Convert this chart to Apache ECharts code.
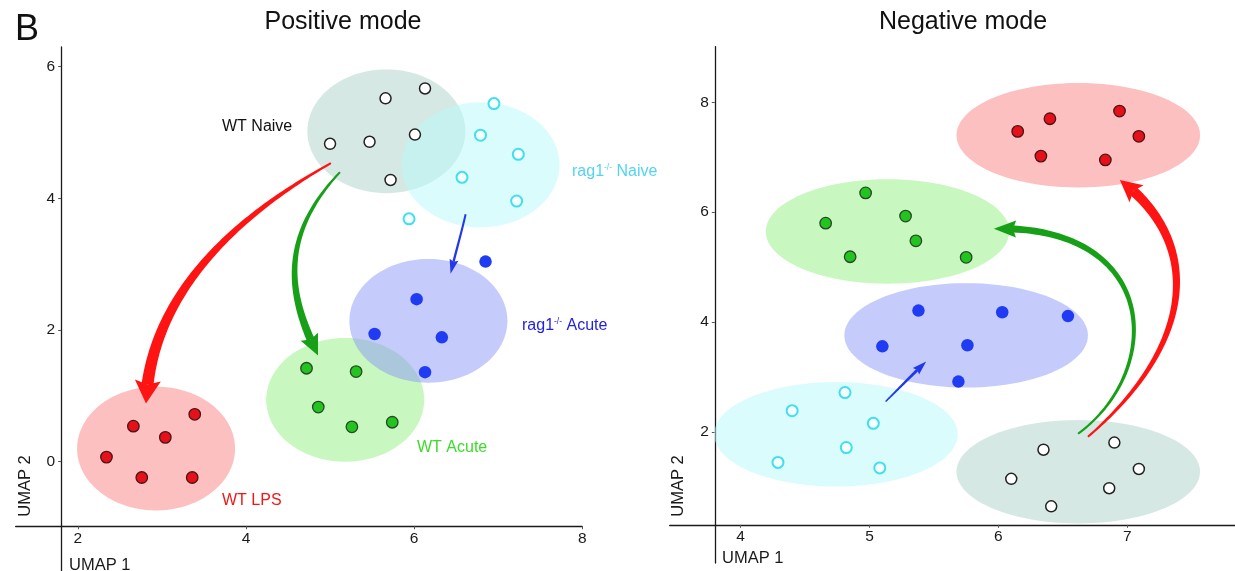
<!DOCTYPE html>
<html><head><meta charset="utf-8">
<script src="https://cdn.jsdelivr.net/npm/echarts@6/dist/echarts.min.js"></script>
<style>html,body{margin:0;padding:0;background:#fff}#c{width:1235px;height:571px}</style>
</head><body><div id="c"></div>
<script>
// ---------- Positive mode (left) : [UMAP1, UMAP2] ----------
const posWTNaive  = [[6.13,5.67],[5.66,5.52],[5.00,4.83],[5.47,4.86],[6.01,4.97],[5.72,4.28]];
const posRagNaive = [[6.95,5.44],[6.79,4.96],[7.24,4.67],[6.57,4.32],[7.22,3.96],[5.94,3.69]];
const posRagAcute = [[6.85,3.04],[6.03,2.47],[5.53,1.94],[6.33,1.89],[6.13,1.36]];
const posWTAcute  = [[4.72,1.42],[5.31,1.37],[4.86,0.83],[5.26,0.53],[5.74,0.60]];
const posWTLPS    = [[3.39,0.72],[2.66,0.54],[3.04,0.37],[2.34,0.07],[2.76,-0.24],[3.36,-0.24]];
// cluster ellipses [cx, cy, rx, ry] : WT Naive, rag1 Naive, WT Acute, rag1 Acute, WT LPS
const posClusters = [[5.67,5.02,0.94,0.94],[6.79,4.51,0.94,0.95],[5.18,0.94,0.94,0.94],[6.17,2.14,0.94,0.94],[2.93,0.20,0.94,0.94]];
// arrows (cubic: start, ctrl1, ctrl2, tip) : red, green, blue
const posArrows = [
  [5.01,4.535, 3.584,3.516, 2.849,2.272, 2.810,0.883],
  [5.118,4.399, 4.333,3.338, 4.551,2.409, 4.857,1.613],
  [6.613,3.76, 6.56,3.46, 6.49,3.16, 6.434,2.857]
];
const posXTicks = [2,4,6,8];
const posYTicks = [0,2,4,6];

// ---------- Negative mode (right) ----------
const negWTLPS    = [[6.15,7.47],[6.40,7.70],[6.94,7.84],[7.09,7.38],[6.33,7.02],[6.83,6.95]];
const negWTAcute  = [[4.97,6.35],[4.66,5.80],[5.28,5.93],[5.36,5.48],[4.85,5.19],[5.75,5.18]];
const negRagAcute = [[5.38,4.21],[6.03,4.18],[6.54,4.11],[5.10,3.56],[5.76,3.58],[5.69,2.92]];
const negRagNaive = [[4.81,2.72],[4.40,2.39],[5.03,2.16],[4.82,1.72],[4.29,1.45],[5.08,1.35]];
const negWTNaive  = [[6.35,1.68],[6.90,1.81],[6.10,1.15],[7.09,1.33],[6.86,0.98],[6.41,0.65]];
// WT Naive, rag1 Naive, WT Acute, rag1 Acute, WT LPS
const negClusters = [[6.62,1.28,0.945,0.94],[4.74,1.96,0.945,0.95],[5.14,5.65,0.945,0.95],[5.75,3.76,0.945,0.95],[6.62,7.40,0.945,0.95]];
const negArrows = [
  [6.695,1.915, 7.564,3.68, 7.564,5.50, 6.943,6.587],
  [6.618,1.97, 7.293,3.13, 7.254,5.77, 5.965,5.70],
  [5.125,2.556, 5.23,2.80, 5.33,3.04, 5.44,3.284]
];
const negXTicks = [4,5,6,7];
const negYTicks = [2,4,6,8];

// ---------- styles ----------
const FONT = 'Liberation Sans, Arial, Helvetica, sans-serif';
const clusterFill = ['rgba(173,209,201,0.5)','rgba(181,249,249,0.5)','rgba(147,239,129,0.5)','rgba(139,151,245,0.5)','rgba(249,129,129,0.5)'];
const arrowStyle = [
  {color:'#ff1414', w0:2, w1:12, head:18, headW:26, notch:4},
  {color:'#17a017', w0:2, w1:8, head:16, headW:19, notch:3},
  {color:'#2238ea', w0:2, w1:2.4, head:12, headW:9, notch:2}
];
const arrowStyleR = [
  {color:'#ff1414', w0:2, w1:10, head:17, headW:22, notch:4},
  {color:'#17a017', w0:2, w1:7, head:15, headW:17, notch:3},
  {color:'#2238ea', w0:1.5, w1:3, head:12, headW:9, notch:2}
];
const groupStyle = {
  WTNaive:  {color:'#ffffff', borderColor:'#222222', borderWidth:1.5, size:11},
  RagNaive: {color:'#f5ffff', borderColor:'#40dff0', borderWidth:2, size:11},
  RagAcute: {color:'#1f3cf2', borderColor:'#1f3cf2', borderWidth:0, size:12.5},
  WTAcute:  {color:'#22c41e', borderColor:'#2b472b', borderWidth:1.3, size:11.5},
  WTLPS:    {color:'#e5101a', borderColor:'#4a1515', borderWidth:1.3, size:11.5}
};

const GL = {left:15.7, top:47, width:566.5, height:524};
const GR = {left:669.7, top:46.7, width:565.3, height:516.3};
const posRange = {x:[1.26,8], y:[-1.66,6.3], cross:[1.8,-0.98]};
const negRange = {x:[3.45,7.836], y:[-0.38,9.01], cross:[3.80,0.315]};

function cubic(P,t){const u=1-t;return [u*u*u*P[0][0]+3*u*u*t*P[1][0]+3*u*t*t*P[2][0]+t*t*t*P[3][0],u*u*u*P[0][1]+3*u*u*t*P[1][1]+3*u*t*t*P[2][1]+t*t*t*P[3][1]];}
function arrowRender(styles){
  return function(params, api){
    const st = styles[params.dataIndex];
    const P = [0,1,2,3].map(k=>api.coord([api.value(2*k),api.value(2*k+1)]));
    const N=100, pts=[];
    for(let i=0;i<=N;i++) pts.push(cubic(P,i/N));
    const tip = pts[N];
    let end=N;
    while(end>1 && Math.hypot(pts[end][0]-tip[0],pts[end][1]-tip[1])<st.head) end--;
    const sh = pts.slice(0,end+1);
    const cum=[0];
    for(let i=1;i<sh.length;i++) cum.push(cum[i-1]+Math.hypot(sh[i][0]-sh[i-1][0],sh[i][1]-sh[i-1][1]));
    const Ltot = cum[cum.length-1]||1;
    const left=[], right=[];
    sh.forEach((p,i)=>{
      const a=sh[Math.max(0,i-1)], b=sh[Math.min(sh.length-1,i+1)];
      let dx=b[0]-a[0], dy=b[1]-a[1]; const l=Math.hypot(dx,dy)||1; dx/=l; dy/=l;
      const w=(st.w0+(st.w1-st.w0)*(cum[i]/Ltot))/2;
      left.push([p[0]-dy*w,p[1]+dx*w]); right.push([p[0]+dy*w,p[1]-dx*w]);
    });
    const B=sh[sh.length-1];
    let dx=tip[0]-B[0], dy=tip[1]-B[1]; const l=Math.hypot(dx,dy)||1; dx/=l; dy/=l;
    const hw=st.headW/2, n=st.notch;
    const head=[tip,[B[0]-dy*hw-dx*n,B[1]+dx*hw-dy*n],[B[0],B[1]],[B[0]+dy*hw-dx*n,B[1]-dx*hw-dy*n]];
    return {type:'group', children:[
      {type:'polygon', shape:{points:left.concat(right.reverse())}, style:{fill:st.color}},
      {type:'polygon', shape:{points:head}, style:{fill:st.color}}
    ]};
  };
}
function ellipseRender(params, api){
  const c=api.coord([api.value(0),api.value(1)]);
  const s=api.size([api.value(2),api.value(3)]);
  const pts=[];
  for(let k=0;k<96;k++){const a=k/96*2*Math.PI; pts.push([c[0]+s[0]*Math.cos(a), c[1]+s[1]*Math.sin(a)]);}
  return {type:'polygon', shape:{points:pts}, style:{fill:clusterFill[params.dataIndex]}};
}

function axisPair(idx, G, R, xt, yt){
  const xOff = -(R.cross[1]-R.y[0])/(R.y[1]-R.y[0])*G.height;
  const yOff = -(R.cross[0]-R.x[0])/(R.x[1]-R.x[0])*G.width;
  const common = {
    type:'value', gridIndex:idx, splitLine:{show:false},
    axisLine:{show:true, onZero:false, lineStyle:{color:'#1a1a1a', width:1.3}},
    axisTick:{show:true, length:3, lineStyle:{color:'#555', width:1}},
    axisLabel:{color:'#1a1a1a', fontSize:15.5, fontFamily:FONT, margin:5}
  };
  const x = Object.assign({}, common, {min:R.x[0], max:R.x[1], offset:xOff, position:'bottom',
    axisTick:Object.assign({}, common.axisTick, {customValues:xt}),
    axisLabel:Object.assign({}, common.axisLabel, {customValues:xt, margin:4})});
  const y = Object.assign({}, common, {min:R.y[0], max:R.y[1], offset:yOff, position:'left',
    axisTick:Object.assign({}, common.axisTick, {customValues:yt}),
    axisLabel:Object.assign({}, common.axisLabel, {customValues:yt, margin:6})});
  return [x,y];
}
const [xL,yL] = axisPair(0, GL, posRange, posXTicks, posYTicks);
const [xR,yR] = axisPair(1, GR, negRange, negXTicks, negYTicks);

function scat(data, st, idx){
  return {type:'scatter', xAxisIndex:idx, yAxisIndex:idx, data:data, symbol:'circle', symbolSize:st.size, z:5,
    itemStyle:{color:st.color, borderColor:st.borderColor, borderWidth:st.borderWidth, opacity:1}, emphasis:{disabled:true}, silent:true};
}
const series = [
  {type:'custom', xAxisIndex:0, yAxisIndex:0, data:posClusters, renderItem:ellipseRender, z:1, silent:true, clip:false, encode:{x:0,y:1}},
  {type:'custom', xAxisIndex:1, yAxisIndex:1, data:negClusters, renderItem:ellipseRender, z:1, silent:true, clip:false, encode:{x:0,y:1}},
  {type:'custom', xAxisIndex:0, yAxisIndex:0, data:posArrows, renderItem:arrowRender(arrowStyle), z:3, silent:true, clip:false, encode:{x:[0,2,4,6],y:[1,3,5,7]}},
  {type:'custom', xAxisIndex:1, yAxisIndex:1, data:negArrows, renderItem:arrowRender(arrowStyleR), z:3, silent:true, clip:false, encode:{x:[0,2,4,6],y:[1,3,5,7]}},
  scat(posWTNaive, groupStyle.WTNaive, 0), scat(posRagNaive, groupStyle.RagNaive, 0), scat(posRagAcute, groupStyle.RagAcute, 0),
  scat(posWTAcute, groupStyle.WTAcute, 0), scat(posWTLPS, groupStyle.WTLPS, 0),
  scat(negWTNaive, groupStyle.WTNaive, 1), scat(negRagNaive, groupStyle.RagNaive, 1), scat(negRagAcute, groupStyle.RagAcute, 1),
  scat(negWTAcute, groupStyle.WTAcute, 1), scat(negWTLPS, groupStyle.WTLPS, 1)
];

function txt(x,y,text,opt){
  return Object.assign({type:'text', x:x, y:y, z:10, silent:true, style:Object.assign({text:text, fill:'#1a1a1a', font:'16px '+FONT, align:'left', verticalAlign:'middle'}, opt&&opt.style||{})}, opt&&opt.el||{});
}
function supRich(color){
  return {a:{fill:color, fontSize:16, fontFamily:FONT, lineHeight:18},
          s:{fill:color, fontSize:8.5, fontFamily:FONT, verticalAlign:'top', lineHeight:18}};
}
const graphic = [
  txt(15,30,'B',{style:{font:'36px '+FONT, fill:'#111'}}),
  txt(343,22,'Positive mode',{style:{font:'25px '+FONT, fill:'#111', align:'center'}}),
  txt(963,22,'Negative mode',{style:{font:'25px '+FONT, fill:'#111', align:'center'}}),
  txt(69,565,'UMAP 1',{style:{font:'16.5px '+FONT}}),
  txt(722,558,'UMAP 1',{style:{font:'16.5px '+FONT}}),
  txt(25,486,'UMAP 2',{style:{font:'16.5px '+FONT, align:'center'}, el:{rotation:Math.PI/2}}),
  txt(678,486,'UMAP 2',{style:{font:'16.5px '+FONT, align:'center'}, el:{rotation:Math.PI/2}}),
  txt(222,127,'WT Naive',{style:{fill:'#111'}}),
  txt(417,448,'WT Acute',{style:{fill:'#3cdc2a'}}),
  txt(222,501,'WT LPS',{style:{fill:'#f01818'}}),
  {type:'text', x:572, y:172, z:10, silent:true, style:{text:'{a|rag1}{s|-/-}{a| Naive}', rich:supRich('#52d4f2'), align:'left', verticalAlign:'middle'}},
  {type:'text', x:522, y:326, z:10, silent:true, style:{text:'{a|rag1}{s|-/-}{a| Acute}', rich:supRich('#2222e6'), align:'left', verticalAlign:'middle'}}
];

const chart = echarts.init(document.getElementById('c'), null, {renderer:'canvas'});
chart.setOption({
  animation:false, backgroundColor:'#ffffff',
  grid:[Object.assign({containLabel:false}, GL), Object.assign({containLabel:false}, GR)],
  xAxis:[xL,xR], yAxis:[yL,yR],
  series:series, graphic:graphic
});
</script></body></html>
